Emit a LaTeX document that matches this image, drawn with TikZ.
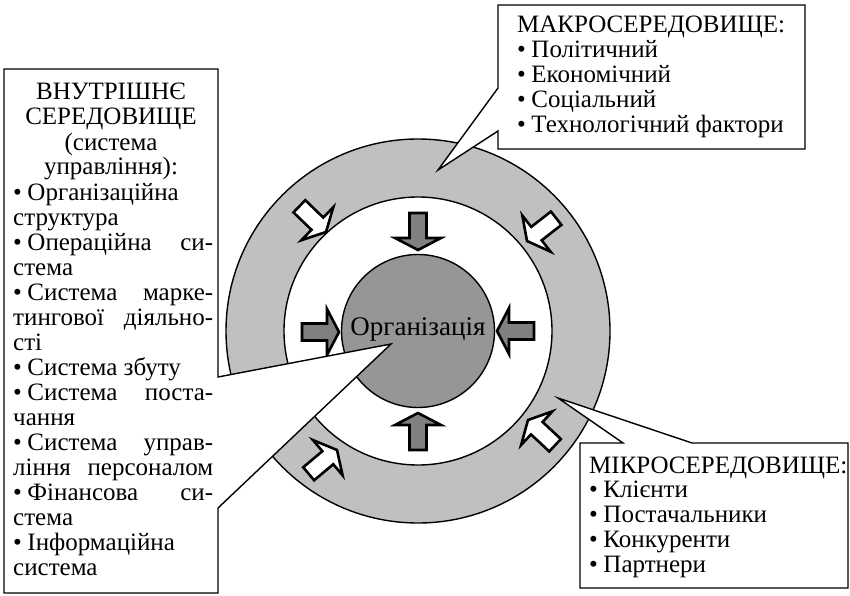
\documentclass[tikz,border=0pt]{standalone}
\usepackage{fontspec}
\setmainfont{Liberation Serif}
\definecolor{ringgray}{RGB}{192,192,192}
\definecolor{coregray}{RGB}{150,150,150}
\definecolor{arrowgray}{RGB}{128,128,128}
\newcommand{\bpt}{•\hspace{0.22em}}
\newcommand{\fullline}[1]{\makebox[200pt][s]{#1}}
\tikzset{
  txt/.style={font=\fontsize{25}{25}\selectfont, inner sep=0pt},
  callout/.style={fill=white, draw=black, line width=1.4pt, line join=miter},
  outline/.style={draw=black, line width=1.4pt},
  grayarrow/.style={fill=arrowgray, draw=black, line width=2.6pt, line join=miter},
  whitearrow/.style={fill=white, draw=black, line width=2.6pt, line join=miter},
  blockarrow/.pic={
    \path[pic actions] (0pt,0pt) -- (-12pt,23pt) -- (-12pt,8.5pt) -- (-37pt,8.5pt)
      -- (-37pt,-8.5pt) -- (-12pt,-8.5pt) -- (-12pt,-23pt) -- cycle;
  }
}
\begin{document}
\begin{tikzpicture}[x=1pt,y=-1pt]
\useasboundingbox (0,0) rectangle (850,596);

% environment ring, inner field and the organisation
\coordinate (c) at (418,331);
\fill[ringgray, even odd rule] (c) circle[radius=192pt] (c) circle[radius=134pt];
\draw[outline] (c) circle[radius=192pt];
\draw[outline] (c) circle[radius=134pt];
\draw[outline, fill=coregray] (c) circle[radius=76.5pt];

% influences of the micro-environment on the organisation
\pic[grayarrow, rotate=-90] at (418,250) {blockarrow};
\pic[grayarrow, rotate=90]  at (418,413) {blockarrow};
\pic[grayarrow, rotate=0]   at (339,332) {blockarrow};
\pic[grayarrow, rotate=180] at (497,331) {blockarrow};

% influences of the macro-environment
\pic[whitearrow, rotate=-44]  at (326,232) {blockarrow};
\pic[whitearrow, rotate=-142] at (527,241) {blockarrow};
\pic[whitearrow, rotate=40]   at (337,450) {blockarrow};
\pic[whitearrow, rotate=137]  at (528,420) {blockarrow};

\node[txt, font=\fontsize{27}{30}\selectfont] (org) at (418,329) {Організація};

% callouts
\draw[callout] (4,69) -- (218,69) -- (218,377) -- (391,344) -- (218,508)
  -- (218,593) -- (4,593) -- cycle;
\draw[callout] (498,5) -- (805,5) -- (805,149) -- (498,149) -- (498,131)
  -- (438,170) -- (498,88) -- cycle;
\draw[callout] (580,443) -- (623,443) -- (558,398) -- (692,443) -- (848,443)
  -- (848,588) -- (580,588) -- cycle;

% internal environment
\foreach \t [count=\i from 0] in {{ВНУТРІШНЄ},{СЕРЕДОВИЩЕ},{(система},{управління):}}
  \node[txt, anchor=base] (ttl\i) at (111,100+25*\i) {\t};
\foreach \t [count=\i from 0] in {
  {\bpt Організаційна},
  {структура},
  {\fullline{\bpt Операційна си-}},
  {стема},
  {\fullline{\bpt Система марке-}},
  {\fullline{тингової діяльно-}},
  {сті},
  {\bpt Система збуту},
  {\fullline{\bpt Система поста-}},
  {чання},
  {\fullline{\bpt Система управ-}},
  {\fullline{ління персоналом}},
  {\fullline{\bpt Фінансова си-}},
  {стема},
  {\bpt Інформаційна},
  {система}}
  \node[txt, anchor=base west] (int\i) at (13,200+25*\i) {\t};

% macro-environment
\foreach \t [count=\i from 0] in {{МАКРОСЕРЕДОВИЩЕ:},{\bpt Політичний},{\bpt Економічний},
  {\bpt Соціальний},{\bpt Технологічний фактори}}
  \node[txt, anchor=base west] (mac\i) at (517,33+25*\i) {\t};

% micro-environment
\foreach \t [count=\i from 0] in {{МІКРОСЕРЕДОВИЩЕ:},{\bpt Клієнти},{\bpt Постачальники},
  {\bpt Конкуренти},{\bpt Партнери}}
  \node[txt, anchor=base west] (mic\i) at (589,473+24.8*\i) {\t};
\end{tikzpicture}
\end{document}
